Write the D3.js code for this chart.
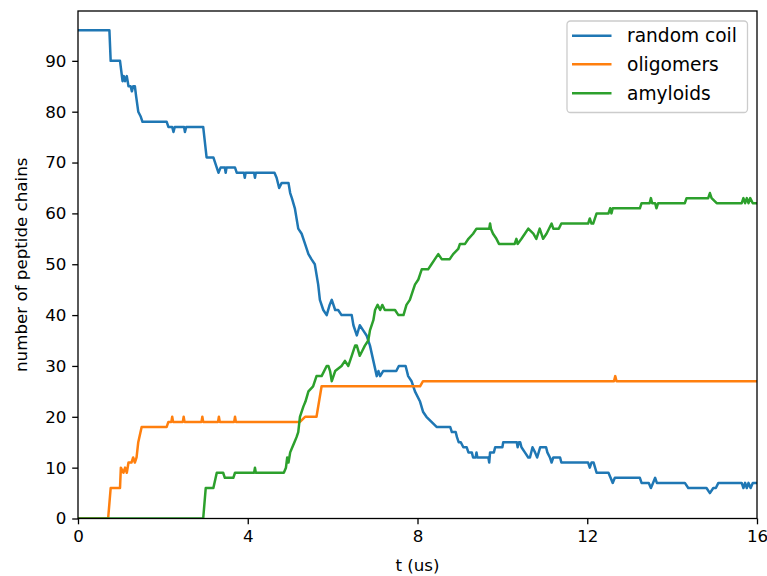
<!DOCTYPE html>
<html>
<head>
<meta charset="utf-8">
<script src="https://cdn.jsdelivr.net/npm/d3@7"></script>
<style>
  html, body { margin: 0; padding: 0; background: #fff; }
  svg { display: block; font-family: "DejaVu Sans", sans-serif; }
</style>
</head>
<body>
<svg id="chart" width="767" height="576"></svg>
<script>
// Peptide chain populations over simulated time, one [t (us), count] vertex list per state.
const randomCoil = [
  [0,96],[0.74,96],[0.77,90],[0.99,90],[1.02,88],[1.05,86],[1.08,87],[1.11,86],[1.15,87],[1.19,85],
  [1.24,85],[1.27,84],[1.3,85],[1.34,85],[1.37,83],[1.42,80],[1.48,79],[1.52,78],[2.09,78],[2.13,77],
  [2.22,77],[2.25,76],[2.28,77],[2.5,77],[2.52,76],[2.55,77],[2.95,77],[3.03,71],[3.19,71],[3.27,69],
  [3.31,68],[3.36,69],[3.46,69],[3.48,68],[3.5,69],[3.7,69],[3.74,68],[3.91,68],[3.93,67],[3.95,68],
  [4.15,68],[4.17,67],[4.19,68],[4.63,68],[4.68,67],[4.74,65],[4.8,66],[4.96,66],[5.0,64],[5.04,63],
  [5.11,61],[5.19,57],[5.27,56],[5.35,54],[5.43,52],[5.5,51],[5.58,50],[5.66,46],[5.7,43],[5.78,41],
  [5.86,40],[5.93,42],[5.98,43],[6.06,41],[6.13,41],[6.21,40],[6.45,40],[6.49,38],[6.57,36],[6.64,38],
  [6.72,37],[6.8,36],[6.88,34],[6.96,31],[7.04,28],[7.08,29],[7.12,28],[7.19,29],[7.5,29],[7.56,30],
  [7.72,30],[7.78,28],[7.86,27],[7.94,25],[8.06,23],[8.13,21],[8.21,20],[8.33,19],[8.45,18],[8.77,18],
  [8.81,17],[8.9,17],[8.93,16],[8.97,15],[9.02,15],[9.08,14],[9.16,14],[9.2,13],[9.28,13],[9.31,12],
  [9.37,12],[9.39,13],[9.41,12],[9.67,12],[9.69,11],[9.71,13],[9.8,13],[9.83,14],[10.0,14],[10.02,15],
  [10.34,15],[10.36,14],[10.39,15],[10.42,15],[10.45,14],[10.53,13],[10.61,12],[10.65,12],[10.71,14],
  [10.77,13],[10.82,12],[10.89,14],[11.03,14],[11.06,13],[11.12,12],[11.16,11],[11.2,12],[11.36,12],
  [11.39,11],[12.02,11],[12.06,10],[12.1,11],[12.15,11],[12.22,9],[12.5,9],[12.55,8],[12.6,7],[12.65,8],
  [13.24,8],[13.28,7],[13.45,7],[13.5,6],[13.55,7],[13.6,8],[13.64,7],[14.3,7],[14.38,6],[14.81,6],
  [14.89,5],[14.97,6],[15.03,6],[15.09,7],[15.64,7],[15.68,6],[15.72,7],[15.76,6],[15.8,7],[15.85,6],
  [15.9,7],[16,7]
];

const oligomers = [
  [0,0],[0.71,0],[0.77,6],[0.99,6],[1.01,10],[1.07,9],[1.11,10],[1.15,9],[1.19,11],[1.26,11],
  [1.3,12],[1.34,11],[1.38,12],[1.42,15],[1.5,18],[2.09,18],[2.13,19],[2.2,19],[2.22,20],[2.24,19],
  [2.47,19],[2.49,20],[2.51,19],[2.91,19],[2.93,20],[2.95,19],[3.3,19],[3.32,20],[3.34,19],[3.68,19],
  [3.7,20],[3.72,19],[5.23,19],[5.35,20],[5.62,20],[5.74,26],[8.06,26],[8.13,27],[12.63,27],[12.66,28],
  [12.69,27],[16,27]
];

const amyloids = [
  [0,0],[2.95,0],[3.01,6],[3.19,6],[3.27,9],[3.42,9],[3.46,8],[3.66,8],[3.7,9],[4.15,9],
  [4.17,10],[4.19,9],[4.85,9],[4.9,10],[4.93,12],[4.96,11],[5.0,13],[5.05,14],[5.1,15],[5.15,16],
  [5.19,17],[5.23,20],[5.31,22],[5.36,23],[5.43,25],[5.54,26],[5.62,28],[5.74,28],[5.86,30],[5.9,30],
  [5.94,29],[5.98,27],[6.06,29],[6.21,30],[6.29,31],[6.37,30],[6.45,32],[6.53,34],[6.57,34],[6.64,32],
  [6.7,33],[6.76,34],[6.84,35],[6.88,37],[6.96,39],[7.0,41],[7.06,42],[7.12,41],[7.17,42],[7.23,41],
  [7.47,41],[7.55,40],[7.67,40],[7.74,42],[7.82,43],[7.9,45],[7.94,46],[8.02,47],[8.06,48],[8.1,49],
  [8.25,49],[8.33,50],[8.41,51],[8.49,52],[8.57,51],[8.76,51],[8.84,52],[8.96,53],[9.0,54],[9.12,54],
  [9.2,55],[9.31,56],[9.39,57],[9.69,57],[9.71,58],[9.73,57],[9.78,56],[9.86,55],[9.92,54],[10.29,54],
  [10.33,55],[10.36,54],[10.45,55],[10.53,56],[10.61,57],[10.73,56],[10.8,55],[10.88,57],[10.96,55],
  [11.04,56],[11.16,58],[11.2,57],[11.33,57],[11.39,58],[12.02,58],[12.06,59],[12.1,58],[12.14,58],
  [12.22,60],[12.5,60],[12.54,61],[12.57,60],[12.6,61],[13.24,61],[13.28,62],[13.47,62],[13.5,63],
  [13.53,62],[13.6,62],[13.63,61],[13.67,62],[14.3,62],[14.34,63],[14.85,63],[14.89,64],[14.93,63],
  [15.05,62],[15.64,62],[15.68,63],[15.72,62],[15.76,63],[15.8,62],[15.84,63],[15.9,62],[16,62]
];

const seriesNames = ["random coil", "oligomers", "amyloids"];
const seriesColors = ["#1f77b4", "#ff7f0e", "#2ca02c"];
const xTicks = [0, 4, 8, 12, 16];
const yTicks = [0, 10, 20, 30, 40, 50, 60, 70, 80, 90];
const xLabel = "t (us)";
const yLabel = "number of peptide chains";

const margin = { left: 78, right: 10, top: 11, bottom: 57.5 };
const W = 767, H = 576;
const svg = d3.select("#chart");

const x = d3.scaleLinear().domain([0, 16]).range([margin.left, W - margin.right]);
const y = d3.scaleLinear().domain([0, 99.8]).range([H - margin.bottom, margin.top]);

svg.append("defs").append("clipPath").attr("id", "plot-clip")
  .append("rect")
  .attr("x", x(0)).attr("y", y(99.8))
  .attr("width", x(16) - x(0)).attr("height", y(0) - y(99.8));

const line = d3.line().x(d => x(d[0])).y(d => y(d[1]));

const plot = svg.append("g").attr("clip-path", "url(#plot-clip)");
[randomCoil, oligomers, amyloids].forEach((data, i) => {
  plot.append("path")
    .datum(data)
    .attr("d", line)
    .attr("fill", "none")
    .attr("stroke", seriesColors[i])
    .attr("stroke-width", 2.5)
    .attr("stroke-linejoin", "round")
    .attr("stroke-linecap", "square");
});

// Axes
const tickLen = 5.8, tickPad = 5.8, fontSize = 16.7;

const xAxis = svg.append("g")
  .attr("transform", `translate(0,${y(0)})`)
  .call(d3.axisBottom(x).tickValues(xTicks).tickFormat(d3.format("d"))
    .tickSize(tickLen).tickPadding(tickPad));

const yAxis = svg.append("g")
  .attr("transform", `translate(${x(0)},0)`)
  .call(d3.axisLeft(y).tickValues(yTicks).tickFormat(d3.format("d"))
    .tickSize(tickLen).tickPadding(tickPad));

[xAxis, yAxis].forEach(g => {
  g.select(".domain").remove();
  g.selectAll(".tick line").attr("stroke", "#000").attr("stroke-width", 1.3);
  g.selectAll(".tick text")
    .attr("fill", "#000")
    .style("font-family", "'DejaVu Sans', sans-serif")
    .style("font-size", fontSize + "px");
});

// Frame around the plot area
svg.append("rect")
  .attr("x", x(0)).attr("y", y(99.8))
  .attr("width", x(16) - x(0)).attr("height", y(0) - y(99.8))
  .attr("fill", "none").attr("stroke", "#000").attr("stroke-width", 1.3);

// Axis titles
svg.append("text")
  .attr("x", (x(0) + x(16)) / 2).attr("y", 571)
  .attr("text-anchor", "middle")
  .style("font-size", fontSize + "px")
  .attr("fill", "#000")
  .text(xLabel);

svg.append("text")
  .attr("transform", `translate(27,${(y(0) + y(99.8)) / 2}) rotate(-90)`)
  .attr("text-anchor", "middle")
  .style("font-size", fontSize + "px")
  .attr("fill", "#000")
  .text(yLabel);

// Legend
const legend = svg.append("g");
legend.append("rect")
  .attr("x", 567).attr("y", 21)
  .attr("width", 180.5).attr("height", 91.5)
  .attr("rx", 3.5).attr("ry", 3.5)
  .attr("fill", "#fff").attr("fill-opacity", 0.8)
  .attr("stroke", "#cccccc").attr("stroke-width", 1.3);

const rowY = [35.7, 64.2, 93.3];
seriesNames.forEach((name, i) => {
  legend.append("line")
    .attr("x1", 572).attr("x2", 611.5)
    .attr("y1", rowY[i]).attr("y2", rowY[i])
    .attr("stroke", seriesColors[i]).attr("stroke-width", 2.5);
  legend.append("text")
    .attr("x", 627).attr("y", rowY[i])
    .attr("dy", "0.35em")
    .style("font-size", "18.6px")
    .attr("fill", "#000")
    .text(name);
});
</script>
</body>
</html>
